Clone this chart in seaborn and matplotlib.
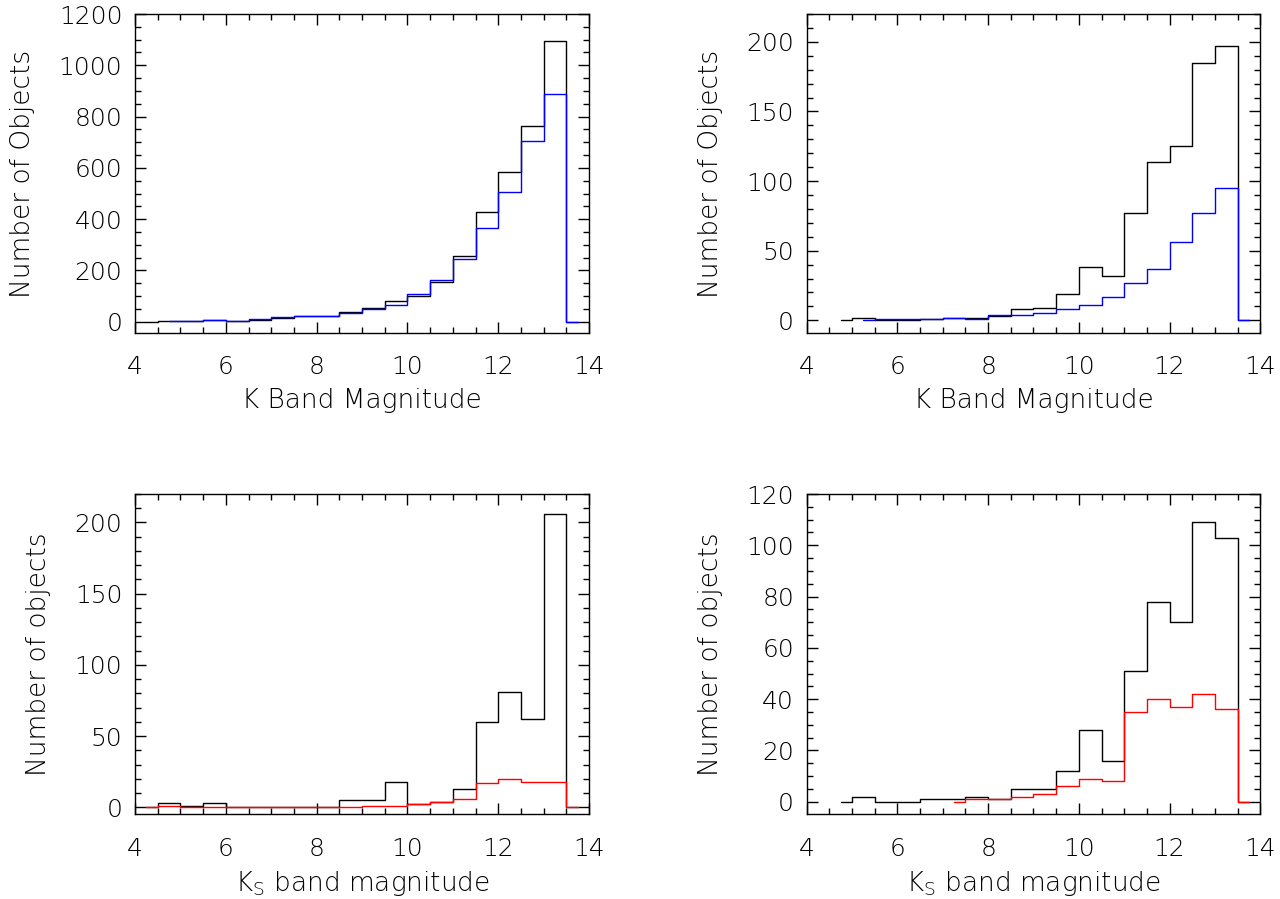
import numpy as np
import pandas as pd
import matplotlib
matplotlib.use("Agg")
import matplotlib.pyplot as plt
from matplotlib.ticker import MultipleLocator
import seaborn as sns

# ---------------- data (bin centres of 0.5 mag bins) ----------------
bin_centers = [4.25, 4.75, 5.25, 5.75, 6.25, 6.75, 7.25, 7.75, 8.25, 8.75,
               9.25, 9.75, 10.25, 10.75, 11.25, 11.75, 12.25, 12.75, 13.25, 13.75]

# top-left panel (K band)
tl_black_start = 4.25
tl_black = [0, 4, 3, 6, 3, 6, 13, 22, 23, 36, 55, 80, 101, 156, 256, 426, 583, 764, 1095, 0]
tl_blue_start = 4.75
tl_blue = [1, 2, 5, 4, 9, 17, 23, 24, 34, 50, 64, 108, 164, 243, 365, 504, 703, 890, 0]

# top-right panel (K band)
tr_black_start = 4.75
tr_black = [0, 2, 0, 0, 1, 2, 2, 3, 8, 9, 19, 38, 32, 77, 114, 125, 185, 197, 0]
tr_blue_start = 5.25
tr_blue = [0, 1, 1, 1, 2, 1, 4, 4, 5, 8, 11, 17, 27, 37, 56, 77, 95, 0]

# bottom-left panel (Ks band)
bl_black_start = 4.25
bl_black = [0, 3, 1, 3, 0, 0, 0, 0, 0, 5, 5, 18, 2, 4, 13, 60, 81, 62, 206, 0]
bl_red_start = 4.25
bl_red = [0, 1, 0, 0, 0, 0, 0, 0, 0, 0, 1, 1, 2, 4, 6, 17, 20, 18, 18, 0]

# bottom-right panel (Ks band)
br_black_start = 4.75
br_black = [0, 2, 0, 0, 1, 1, 2, 1, 5, 5, 12, 28, 16, 51, 78, 70, 109, 103, 0]
br_red_start = 7.25
br_red = [0, 1, 1, 2, 3, 6, 9, 8, 35, 40, 37, 42, 36, 0]

x_ticks = [4, 6, 8, 10, 12, 14]
ylabel_top = "Number of Objects"
ylabel_bottom = "Number of objects"
xlabel_top = "K Band Magnitude"
xlabel_bottom = r"K$_\mathregular{S}$ band magnitude"

# ---------------- style ----------------
sns.set_theme(style="ticks")
plt.rcParams["font.family"] = ["DejaVu Sans"]
plt.rcParams["mathtext.default"] = "regular"
for k in ["text.color", "axes.labelcolor", "xtick.color", "ytick.color",
          "xtick.labelcolor", "ytick.labelcolor"]:
    plt.rcParams[k] = "black"
FS = 18
LFS = 19
W = 200  # thin strokes

fig = plt.figure(figsize=(12.8, 8.99), dpi=100)

panels = [
    dict(rect=[0.1055, 0.6296, 0.3547, 0.3548],
         series=[(tl_black_start, tl_black, "black"), (tl_blue_start, tl_blue, "blue")],
         ylim=(-44, 1200), ymaj=200, ymin=50, ylabel=ylabel_top, xlabel=xlabel_top),
    dict(rect=[0.6302, 0.6296, 0.3544, 0.3548],
         series=[(tr_black_start, tr_black, "black"), (tr_blue_start, tr_blue, "blue")],
         ylim=(-9.1, 220), ymaj=50, ymin=10, ylabel=ylabel_top, xlabel=xlabel_top),
    dict(rect=[0.1055, 0.0942, 0.3547, 0.3563],
         series=[(bl_black_start, bl_black, "black"), (bl_red_start, bl_red, "red")],
         ylim=(-4.9, 220), ymaj=50, ymin=10, ylabel=ylabel_bottom, xlabel=xlabel_bottom),
    dict(rect=[0.6302, 0.0942, 0.3544, 0.3563],
         series=[(br_black_start, br_black, "black"), (br_red_start, br_red, "red")],
         ylim=(-4.9, 120), ymaj=20, ymin=5, ylabel=ylabel_bottom, xlabel=xlabel_bottom),
]

for p in panels:
    ax = fig.add_axes(p["rect"])
    for start, counts, color in p["series"]:
        i0 = bin_centers.index(start)
        df = pd.DataFrame({"mag": bin_centers[i0:i0 + len(counts)], "n": counts})
        sns.lineplot(data=df, x="mag", y="n", ax=ax, color=color,
                     drawstyle="steps-mid", linewidth=1.0, estimator=None,
                     sort=False)
    ax.set_xlim(4, 14)
    ax.set_xticks(x_ticks)
    ax.xaxis.set_minor_locator(MultipleLocator(0.5))
    ax.yaxis.set_major_locator(MultipleLocator(p["ymaj"]))
    ax.yaxis.set_minor_locator(MultipleLocator(p["ymin"]))
    ax.set_ylim(*p["ylim"])
    ax.tick_params(which="both", direction="in", top=True, right=True,
                   color="black", width=1.0)
    ax.tick_params(which="major", length=8)
    ax.tick_params(which="minor", length=4)
    ax.tick_params(axis="x", which="major", pad=16, labelsize=FS)
    ax.tick_params(axis="y", which="major", pad=9, labelsize=FS)
    for lab in ax.get_xticklabels() + ax.get_yticklabels():
        lab.set_fontweight(W)
    for s in ax.spines.values():
        s.set_linewidth(1.0)
        s.set_color("black")
    ax.set_xlabel(p["xlabel"], fontsize=LFS, fontweight=W, labelpad=6)
    ax.set_ylabel(p["ylabel"], fontsize=LFS, fontweight=W, labelpad=17)

fig.savefig("out.png", dpi=100, facecolor="white")
